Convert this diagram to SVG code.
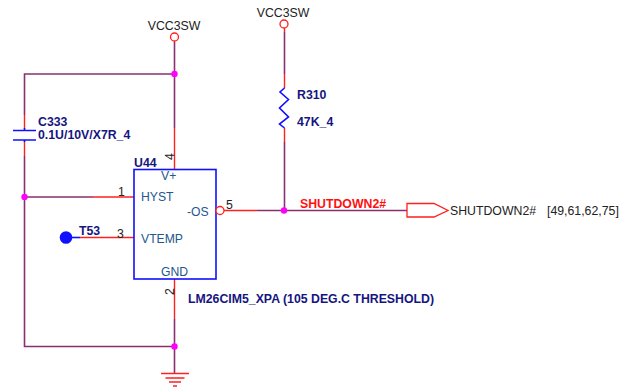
<svg xmlns="http://www.w3.org/2000/svg" width="619" height="389" viewBox="0 0 619 389">
<style>
text{font-family:"Liberation Sans",Arial,sans-serif}
.p{fill:none;stroke:#8a2f6f;stroke-width:1.6}
.r{fill:none;stroke:#ff2020;stroke-width:1.4}
.b{fill:none;stroke:#1010ff;stroke-width:1.6}
.j{fill:#ff00ff}
.net{font-size:12.300px;fill:#222}
.ref{font-size:12.300px;font-weight:bold;fill:#15157f}
.pin{font-size:12.300px;fill:#222}
.lbl{font-size:12.200px;fill:#23578f}
</style>
<rect width="619" height="389" fill="#fff"/>
<g id="connectors">
<path class="p" d="M174.500 42V128M174.500 74H24.500V115M24.500 156V346.500H174.500M24.500 197H93M284.500 32V74M284.500 142V210.500M257 210.500H407M174.500 319V373"/>
<path class="r" d="M174.500 41V42M174.500 128V169M24.500 115V129M24.500 141V156M93 197H134M284.500 28V32M284.500 74V88M284.500 128V142M224 210.500H257M80 237.500H134M174.500 279V319"/>
<path class="b" d="M72 237.500H80"/>
</g>
<g id="junctions">
<circle class="j" cx="174.500" cy="74" r="3.200"/>
<circle class="j" cx="24.500" cy="197" r="3.200"/>
<circle class="j" cx="284" cy="210.500" r="3.200"/>
<circle class="j" cx="174.500" cy="346.500" r="3.200"/>
</g>
<g id="vcc1">
<circle cx="174.500" cy="37" r="4" fill="#fff" stroke="#ff2020" stroke-width="1.300"/>
<text class="net" x="174" y="30" text-anchor="middle">VCC3SW</text>
</g>
<g id="vcc2">
<circle cx="284" cy="24" r="4" fill="#fff" stroke="#ff2020" stroke-width="1.300"/>
<text class="net" x="283" y="17" text-anchor="middle">VCC3SW</text>
</g>
<g id="C333">
<path class="b" d="M13 130.500H36M13 140H36M24.500 128V130.500M24.500 140V142"/>
<text class="ref" x="38" y="126">C333</text>
<text class="ref" x="38" y="139">0.1U/10V/X7R_4</text>
</g>
<g id="R310">
<path class="b" d="M284.500 88L280 92L288.500 99.500L279.500 108L288.500 117L279.500 124L284.500 128"/>
<text class="ref" x="297" y="99">R310</text>
<text class="ref" x="297" y="126">47K_4</text>
</g>
<g id="U44">
<rect x="134" y="169.500" width="82" height="109.500" fill="#fff" class="b"/>
<text class="ref" x="134" y="167">U44</text>
<text class="lbl" x="161" y="180">V+</text>
<text class="lbl" x="141" y="201">HYST</text>
<text class="lbl" x="187" y="216">-OS</text>
<text class="lbl" x="141" y="243">VTEMP</text>
<text class="lbl" x="161" y="276">GND</text>
<circle cx="220" cy="210.500" r="4" fill="#fff" stroke="#ff2020" stroke-width="1.300"/>
<text class="pin" x="118" y="196">1</text>
<text class="pin" x="117" y="238">3</text>
<text class="pin" x="226" y="209">5</text>
<text class="pin" transform="translate(174 160) rotate(-90)">4</text>
<text class="pin" transform="translate(174 295) rotate(-90)">2</text>
<text class="ref" x="188" y="303">LM26CIM5_XPA (105 DEG.C THRESHOLD)</text>
</g>
<g id="T53">
<circle cx="66" cy="237.500" r="6.300" fill="#1010ff"/>
<text class="ref" x="79" y="235">T53</text>
</g>
<g id="SHUTDOWN2">
<text x="300" y="208" font-size="12.300" font-weight="bold" fill="#ff1010">SHUTDOWN2#</text>
<path d="M407 203.500H434L448 210.500L434 217H407Z" fill="#fff" stroke="#ff2020" stroke-width="1.300"/>
<text class="net" x="450" y="215">SHUTDOWN2#</text>
<text class="net" x="547" y="215">[49,61,62,75]</text>
</g>
<g id="GND">
<path class="r" d="M161 373.500H189M165.500 378H184.500M169 382H181M173 386H177"/>
</g>
</svg>
